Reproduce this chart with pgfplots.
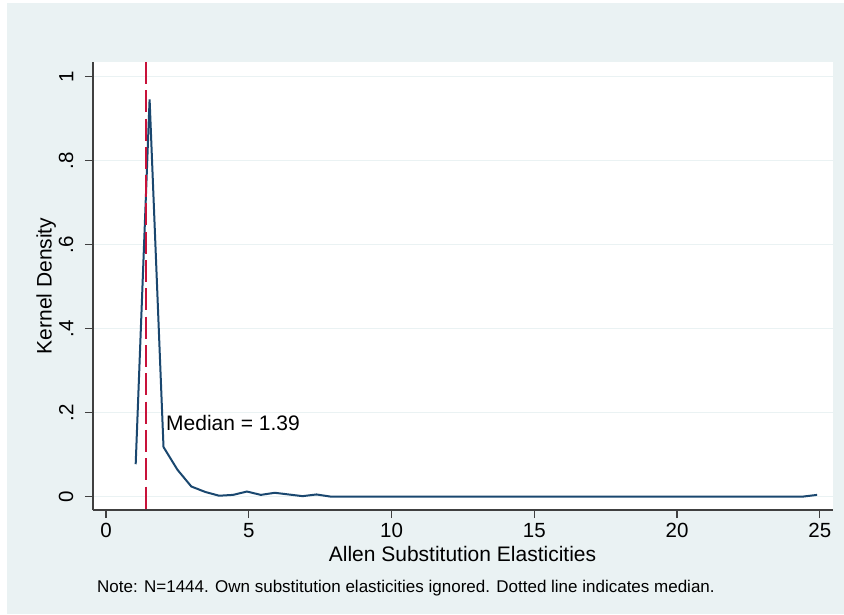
\documentclass[border=0pt]{standalone}
\usepackage{pgfplots}
\pgfplotsset{compat=1.18}
\usepackage{fontspec}
\setmainfont{Liberation Sans}
\definecolor{bgc}{RGB}{234,242,243}
\definecolor{gridc}{RGB}{234,242,243}
\definecolor{navyst}{RGB}{26,71,111}
\definecolor{cranb}{RGB}{200,18,58}
\begin{document}
\begin{tikzpicture}[x=1pt,y=1pt]
\path[use as bounding box] (0,0) rectangle (844,614);
\fill[white] (0,0) rectangle (844,614);
\fill[bgc] (7,0) rectangle (844,611);
\begin{axis}[
  at={(93pt,104pt)}, anchor=south west, scale only axis,
  width=740pt, height=448pt,
  xmin=-0.455, xmax=25.46, ymin=-0.032, ymax=1.035,
  axis background/.style={fill=white},
  axis x line*=bottom, axis y line*=left,
  axis line style={black!75, line width=1.2pt},
  xtick={0,5,10,15,20,25}, xticklabels={0,5,10,15,20,25},
  ytick={0,0.2,0.4,0.6,0.8,1}, yticklabels={0,.2,.4,.6,.8,1},
  tick align=outside, major tick length=8pt,
  tick style={black!75, line width=1.2pt},
  /pgf/number format/assume math mode=true,
  ticklabel style={font=\fontsize{20.5}{24}\selectfont, inner sep=0pt},
  xticklabel style={anchor=north},
  xticklabel shift=5.3pt,
  yticklabel style={rotate=90, anchor=south},
  yticklabel shift=11.5pt,
  ymajorgrids, grid style={gridc, line width=1.5pt},
  clip=true,
]
\addplot[navyst, line width=2pt] coordinates {
(1.040,0.077) (1.527,0.946) (2.014,0.118) (2.501,0.064) (2.988,0.024)
(3.475,0.011) (3.962,0.002) (4.449,0.004) (4.936,0.012) (5.423,0.004)
(5.910,0.009) (6.397,0.005) (6.884,0.001) (7.371,0.005) (7.858,0.000)
(8.345,0) (8.832,0) (9.319,0) (9.806,0) (10.293,0) (10.780,0) (11.267,0)
(11.754,0) (12.241,0) (12.728,0) (13.215,0) (13.702,0) (14.189,0) (14.676,0)
(15.163,0) (15.650,0) (16.137,0) (16.624,0) (17.111,0) (17.598,0) (18.085,0)
(18.572,0) (19.059,0) (19.546,0) (20.033,0) (20.520,0) (21.007,0) (21.494,0)
(21.981,0) (22.468,0) (22.955,0) (23.442,0) (23.929,0) (24.416,0) (24.903,0.004)
};
\addplot[cranb, line width=2.2pt, dash pattern=on 22pt off 6.3pt] coordinates {(1.39,1.035) (1.39,-0.032)};
\node[anchor=base west, inner sep=0pt, font=\fontsize{21}{25}\selectfont] at (axis cs:2.10,0.157) {Median = 1.39};
\end{axis}
\node[rotate=90, anchor=base, inner sep=0pt, font=\fontsize{21}{25}\selectfont] at (51.7,328) {Kernel Density};
\node[anchor=base, inner sep=0pt, font=\fontsize{21}{25}\selectfont] at (462.5,53) {Allen Substitution Elasticities};
\node[anchor=base west, inner sep=0pt, font=\fontsize{17}{20}\selectfont] at (97,21.3) {Note: N=1444. Own substitution elasticities ignored. Dotted line indicates median.};
\end{tikzpicture}
\end{document}
